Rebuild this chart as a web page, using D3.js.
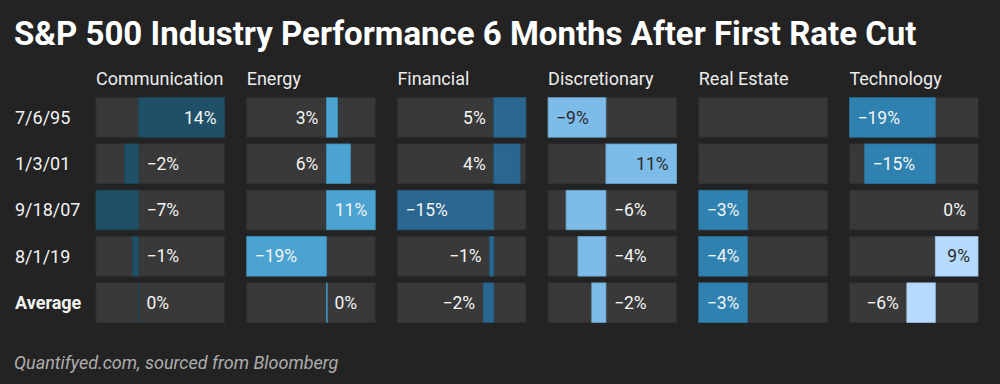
<!DOCTYPE html>
<html>
<head>
<meta charset="utf-8">
<script src="https://cdn.jsdelivr.net/npm/d3@7"></script>
<style>
  html, body { margin: 0; padding: 0; background: #232323; }
  svg { display: block; font-family: Roboto, "Noto Sans", sans-serif; }
</style>
</head>
<body>
<svg id="chart"></svg>
<script>
// data
const industries = ["Communication", "Energy", "Financial", "Discretionary", "Real Estate", "Technology"];
const cutDates = ["7/6/95", "1/3/01", "9/18/07", "8/1/19", "Average"];

const communication = [14, -2.3, -6.9, -1, 0.1];
const energy = [2.6, 5.6, 11.4, -18.6, 0.2];
const financial = [5, 4.1, -15, -0.65, -1.65];
const discretionary = [-9, 11, -6.2, -4.35, -2.2];
const realEstate = [null, null, -3.4, -4.1, -3.5];
const technology = [-18.7, -15.4, 0, 9.3, -6.2];

// real estate column is scaled on its own range (bars clipped at the left)
const realEstateDomain = [-3, 4.9];

const seriesList = [communication, energy, financial, discretionary, realEstate, technology];

const width = 1000;
const height = 384;

const svg = d3.select("#chart").attr("width", width).attr("height", height);

svg.append("rect").attr("width", width).attr("height", height).attr("fill", "#232323");

// title
svg.append("text")
  .attr("x", 14)
  .attr("y", 45)
  .attr("fill", "#ffffff")
  .attr("font-size", "33px")
  .attr("font-weight", "bold")
  .text("S&P 500 Industry Performance 6 Months After First Rate Cut");

// source
svg.append("text")
  .attr("x", 14)
  .attr("y", 369)
  .attr("fill", "#adadad")
  .attr("font-size", "18px")
  .attr("font-style", "italic")
  .text("Quantifyed.com, sourced from Bloomberg");

const col = d3.scaleBand()
  .domain(industries)
  .range([96, 978])
  .paddingInner(0.147)
  .paddingOuter(0);

const row = d3.scaleBand()
  .domain(cutDates)
  .range([97.7, 322.4])
  .paddingInner(0.147)
  .paddingOuter(0);

const bw = col.bandwidth();
const bh = row.bandwidth();

// bar colours
const colorFor = (ci, ri) => {
  const base = ["#1f5068", "#4aa3d0", "#2a6790", "#7dbbe8", "#2f82b0", "#2f82b0"][ci];
  if (ci === 5 && ri >= 3) return "#b5dcff";
  return base;
};
const isLight = (c) => d3.lab(c).l > 65;

// row labels
svg.append("g")
  .selectAll("text")
  .data(cutDates)
  .join("text")
  .attr("x", 15)
  .attr("y", (d) => row(d) + bh / 2)
  .attr("dy", "0.35em")
  .attr("fill", "#f2f2f2")
  .attr("font-size", "18px")
  .attr("font-weight", (d) => (d === "Average" ? "bold" : "normal"))
  .text((d) => d);

// column headers
svg.append("g")
  .selectAll("text")
  .data(industries)
  .join("text")
  .attr("x", (d) => col(d))
  .attr("y", 85)
  .attr("fill", "#ececec")
  .attr("font-size", "18px")
  .text((d) => d);

const fmt = (v) => {
  const r = Math.round(v);
  if (r === 0) return "0%";
  return (r < 0 ? "\u2212" : "") + Math.abs(r) + "%";
};

industries.forEach((name, ci) => {
  const values = seriesList[ci];
  const domain = name === "Real Estate" ? realEstateDomain : d3.extent(values);
  const x = d3.scaleLinear().domain(domain).range([0, bw]).clamp(true);

  const g = svg.append("g").attr("transform", `translate(${col(name)},0)`);

  cutDates.forEach((date, ri) => {
    const y0 = row(date);
    const cell = g.append("g").attr("transform", `translate(0,${y0})`);

    cell.append("rect")
      .attr("width", bw)
      .attr("height", bh)
      .attr("fill", "#393939")
      .attr("stroke", "#303030")
      .attr("stroke-width", 1);

    const v = values[ri];
    if (v === null || v === undefined) return;

    const zero = x(0);
    const end = x(v);
    const left = Math.min(zero, end);
    const barW = Math.abs(end - zero);
    const color = colorFor(ci, ri);

    if (barW > 0) {
      cell.append("rect")
        .attr("x", left)
        .attr("width", barW)
        .attr("height", bh)
        .attr("fill", color)
        .attr("stroke", d3.color(color).darker(0.4))
        .attr("stroke-width", 0.8);
    }

    const label = cell.append("text")
      .attr("y", bh / 2)
      .attr("dy", "0.35em")
      .attr("font-size", "17.5px")
      .attr("fill", "#f4f4f4")
      .text(fmt(v));

    const tw = label.node().getComputedTextLength();
    const pad = 8;
    const r = Math.round(v);

    if (r === 0) {
      label.attr("x", zero + pad).attr("text-anchor", "start");
    } else if (barW >= tw + 2 * pad) {
      // inside the bar, at its far end
      if (v > 0) label.attr("x", end - pad).attr("text-anchor", "end");
      else label.attr("x", end + pad).attr("text-anchor", "start");
      if (isLight(color)) label.attr("fill", "#2b2b2b");
    } else if (v > 0 && bw - end >= tw + 2 * pad) {
      label.attr("x", end + pad).attr("text-anchor", "start");
    } else if (v < 0 && end >= tw + 2 * pad) {
      label.attr("x", end - pad).attr("text-anchor", "end");
    } else if (v > 0) {
      label.attr("x", zero - pad).attr("text-anchor", "end");
    } else {
      label.attr("x", zero + pad).attr("text-anchor", "start");
    }
  });
});
</script>
</body>
</html>
